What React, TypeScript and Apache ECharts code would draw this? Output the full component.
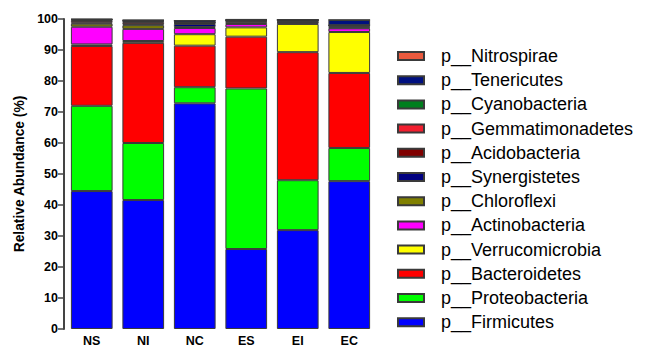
import React, { useEffect, useRef } from "react";
import * as echarts from "echarts";

const categories = ["NS", "NI", "NC", "ES", "EI", "EC"];
const phyla = [
  "p__Firmicutes",
  "p__Proteobacteria",
  "p__Bacteroidetes",
  "p__Verrucomicrobia",
  "p__Actinobacteria",
  "p__Chloroflexi",
  "p__Synergistetes",
  "p__Acidobacteria",
  "p__Gemmatimonadetes",
  "p__Cyanobacteria",
  "p__Tenericutes",
  "p__Nitrospirae",
];
const colors = [
  "#0000FF",
  "#00FF00",
  "#FF0000",
  "#FFFF00",
  "#FF00FF",
  "#808000",
  "#000080",
  "#800000",
  "#F21F2F",
  "#007F1E",
  "#001080",
  "#EA5A3E",
];
const firmicutes = [44.5, 41.6, 72.8, 25.8, 31.9, 47.7];
const proteobacteria = [27.5, 18.4, 5.2, 51.8, 16.1, 10.7];
const bacteroidetes = [19.3, 32.3, 13.4, 16.7, 41.3, 24.2];
const verrucomicrobia = [0.5, 0.6, 3.7, 3.0, 9.1, 13.2];
const actinobacteria = [5.7, 3.9, 2.0, 1.1, 0.5, 1.2];
const chloroflexi = [1.0, 1.2, 0.3, 0.5, 0.1, 0.2];
const synergistetes = [0.3, 0.3, 1.0, 0.2, 0.2, 0.5];
const acidobacteria = [0.6, 0.7, 0.3, 0.3, 0.3, 0.2];
const gemmatimonadetes = [0.3, 0.3, 0.1, 0.1, 0.1, 0.1];
const cyanobacteria = [0.1, 0.1, 0.1, 0.1, 0.0, 0.0];
const tenericutes = [0.1, 0.2, 0.6, 0.2, 0.2, 1.7];
const nitrospirae = [0.1, 0.1, 0.0, 0.1, 0.0, 0.0];
const seriesValues = [
  firmicutes,
  proteobacteria,
  bacteroidetes,
  verrucomicrobia,
  actinobacteria,
  chloroflexi,
  synergistetes,
  acidobacteria,
  gemmatimonadetes,
  cyanobacteria,
  tenericutes,
  nitrospirae,
];
const yTicks = [0, 100, 10];

const FONT = "'Liberation Sans', Arial, sans-serif";

export default function App() {
  const ref = useRef<HTMLDivElement>(null);
  useEffect(() => {
    if (!ref.current) return;
    const chart = echarts.init(ref.current, null, { renderer: "svg" });
    chart.setOption({
      animation: false,
      backgroundColor: "#ffffff",
      grid: { left: 66, top: 19, width: 309, height: 310, containLabel: false },
      legend: {
        orient: "vertical",
        left: 397,
        top: 47,
        padding: 0,
        data: [...phyla].reverse(),
        itemWidth: 26,
        itemHeight: 8,
        itemGap: 6.2,
        icon: "rect",
        selectedMode: false,
        textStyle: {
          fontFamily: FONT,
          fontSize: 18,
          color: "#000",
          lineHeight: 18,
          padding: [0, 0, 0, 12],
        },
      },
      xAxis: {
        type: "category",
        data: categories,
        axisLine: { show: false },
        axisTick: { show: false },
        axisLabel: {
          color: "#000",
          fontWeight: "bold",
          fontFamily: FONT,
          fontSize: 12.5,
          margin: 5,
        },
      },
      yAxis: {
        type: "value",
        min: yTicks[0],
        max: yTicks[1],
        interval: yTicks[2],
        offset: 2,
        name: "Relative Abundance (%)",
        nameLocation: "middle",
        nameGap: 38,
        nameTextStyle: {
          color: "#000",
          fontWeight: "bold",
          fontFamily: FONT,
          fontSize: 13.8,
        },
        splitLine: { show: false },
        axisLine: { show: true, lineStyle: { color: "#444", width: 2 } },
        axisTick: { show: true, length: 6, lineStyle: { color: "#444", width: 1.5 } },
        axisLabel: {
          color: "#000",
          fontWeight: "bold",
          fontFamily: FONT,
          fontSize: 12.5,
          margin: 6,
        },
      },
      series: phyla.map((name, i) => ({
        name,
        type: "bar",
        stack: "total",
        barWidth: "81%",
        data: seriesValues[i],
        itemStyle: {
          color: colors[i],
          borderColor: "#3a3a3a",
          borderWidth: 1,
        },
      })),
    });
    return () => chart.dispose();
  }, []);
  return (
    <div
      ref={ref}
      style={{ position: "absolute", left: 0, top: 0, width: 649, height: 348 }}
    />
  );
}
